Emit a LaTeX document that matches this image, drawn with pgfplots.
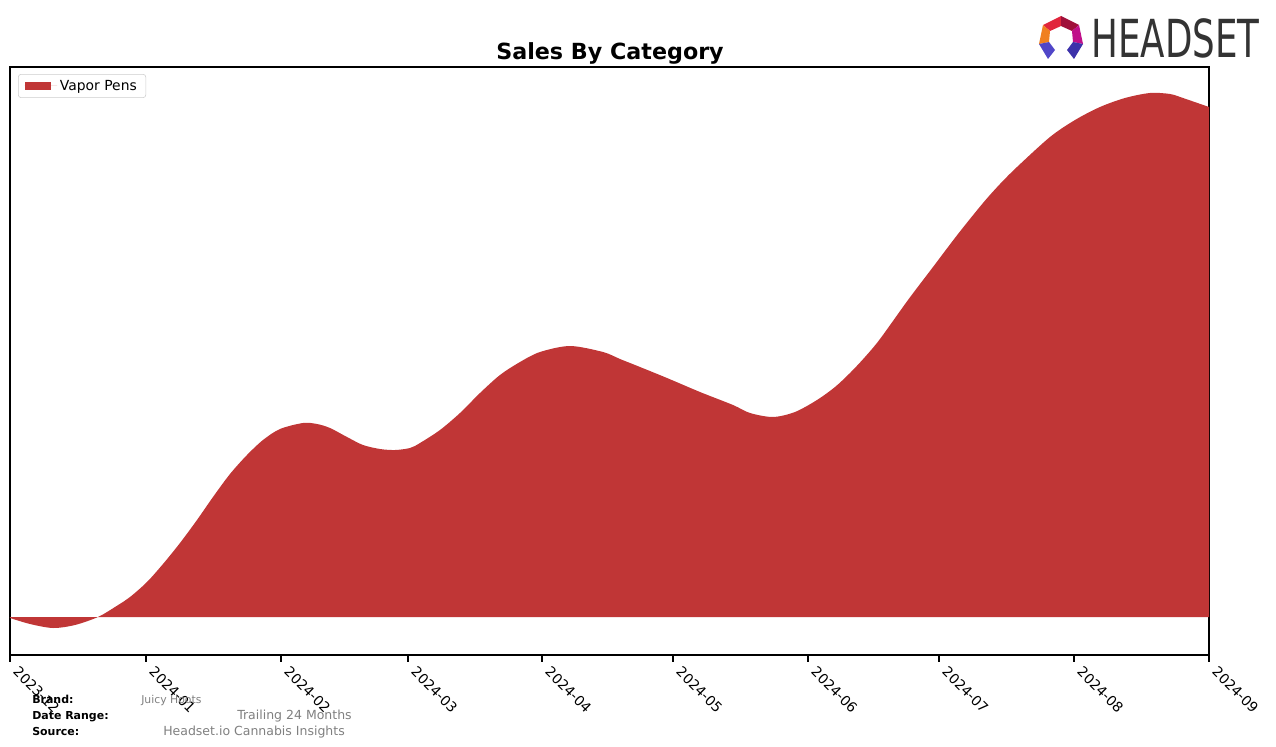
\documentclass[border=0pt]{standalone}
\usepackage{fontspec}
\setmainfont{DejaVu Sans}
\usepackage{graphicx}
\usepackage{pgfplots}
\pgfplotsset{compat=1.18}
\definecolor{vapor}{RGB}{192,54,54}
\definecolor{footgrey}{RGB}{128,128,128}
\definecolor{logogrey}{RGB}{51,51,51}
\definecolor{lgA}{RGB}{225,38,60}
\definecolor{lgB}{RGB}{160,16,58}
\definecolor{lgC}{RGB}{240,128,32}
\definecolor{lgD}{RGB}{192,16,138}
\definecolor{lgE}{RGB}{80,70,200}
\definecolor{lgF}{RGB}{60,50,170}

\begin{document}
\begin{tikzpicture}[x=0.72pt,y=-0.72pt]
\path[use as bounding box] (0,0) rectangle (1276,747);

\begin{axis}[
    at={(7.2pt,-471.6pt)}, anchor=south west,
    scale only axis,
    width=863.28pt, height=423.36pt,
    xmin=10, xmax=1209,
    ymin=-38, ymax=550,
    axis line style={black, line width=0.8pt},
    ytick=\empty,
    xtick={10,146,281,408,542,673,808,939,1074,1209},
    xticklabels={2023-12,2024-01,2024-02,2024-03,2024-04,2024-05,2024-06,2024-07,2024-08,2024-09},
    xtick pos=bottom,
    tick align=outside,
    major tick length=5pt,
    every tick/.style={black, line width=0.8pt},
    xticklabel style={font=\fontsize{10}{12}\selectfont, xshift=7pt, yshift=-1pt, rotate=-45, anchor=north west, inner sep=1pt},
    legend style={at={(0.0067,0.988)}, anchor=north west, draw=black!20, rounded corners=2pt,
        font=\fontsize{10}{12}\selectfont, inner xsep=4.5pt, inner ysep=2pt},
    legend cell align=left,
    legend image code/.code={\fill[vapor, sharp corners] (0pt,-2.9pt) rectangle (18.7pt,2.9pt);
        \path (0pt,0pt) -- (23.5pt,0pt);},
  ]
\addplot[fill=vapor, draw=none, smooth, tension=0.5] table {
x y
10 -1
30 -7
53 -11
75 -8
98 0
115 10
130 20
147 35
163 53
180 74
197 97
213 120
230 143
247 162
263 177
280 188
303 194
317 193
330 189
347 180
363 172
380 168
395 167
410 169
420 174
440 187
460 204
480 224
500 242
520 255
540 265
570 271
603 265
620 258
640 250
667 239
700 225
733 212
750 204
773 200
795 205
817 217
835 230
850 244
865 260
880 278
908 317
933 350
958 383
983 414
1000 433
1017 450
1050 480
1075 497
1100 510
1125 519
1150 524
1170 523
1183 519
1209 510
} \closedcycle;
\addlegendentry{Vapor Pens}
\end{axis}

\node[font=\bfseries\fontsize{16}{18}\selectfont] at (610,53) {Sales By Category};

% logo
\fill[lgA] (1043,25) -- (1061,16) -- (1061,26) -- (1050,31) -- cycle;
\fill[lgB] (1061,16) -- (1079,25) -- (1072,31) -- (1061,26) -- cycle;
\fill[lgC] (1043,25) -- (1050,31) -- (1049,42) -- (1039,44) -- cycle;
\fill[lgD] (1079,25) -- (1083,44) -- (1073,42) -- (1072,31) -- cycle;
\fill[lgE] (1039,44) -- (1049,42) -- (1055,50) -- (1048,59) -- cycle;
\fill[lgF] (1083,44) -- (1073,42) -- (1067,50) -- (1074,59) -- cycle;
\node[anchor=west, inner sep=0pt, text=logogrey] at (1091,38)
  {\resizebox{121pt}{28pt}{HEADSET}};

% footer
\node[anchor=base west, inner sep=0pt, font=\bfseries\fontsize{7.9}{9}\selectfont] at (32,703) {Brand:};
\node[anchor=base west, inner sep=0pt, font=\bfseries\fontsize{7.9}{9}\selectfont] at (32,719) {Date Range:};
\node[anchor=base west, inner sep=0pt, font=\bfseries\fontsize{7.9}{9}\selectfont] at (32,735) {Source:};
\node[anchor=base west, inner sep=0pt, text=footgrey, font=\fontsize{7.8}{9}\selectfont] at (141,703) {Juicy Hoots};
\node[anchor=base west, inner sep=0pt, text=footgrey, font=\fontsize{9}{11}\selectfont] at (237,719) {Trailing 24 Months};
\node[anchor=base west, inner sep=0pt, text=footgrey, font=\fontsize{9}{11}\selectfont] at (163,735) {Headset.io Cannabis Insights};
\end{tikzpicture}
\end{document}
